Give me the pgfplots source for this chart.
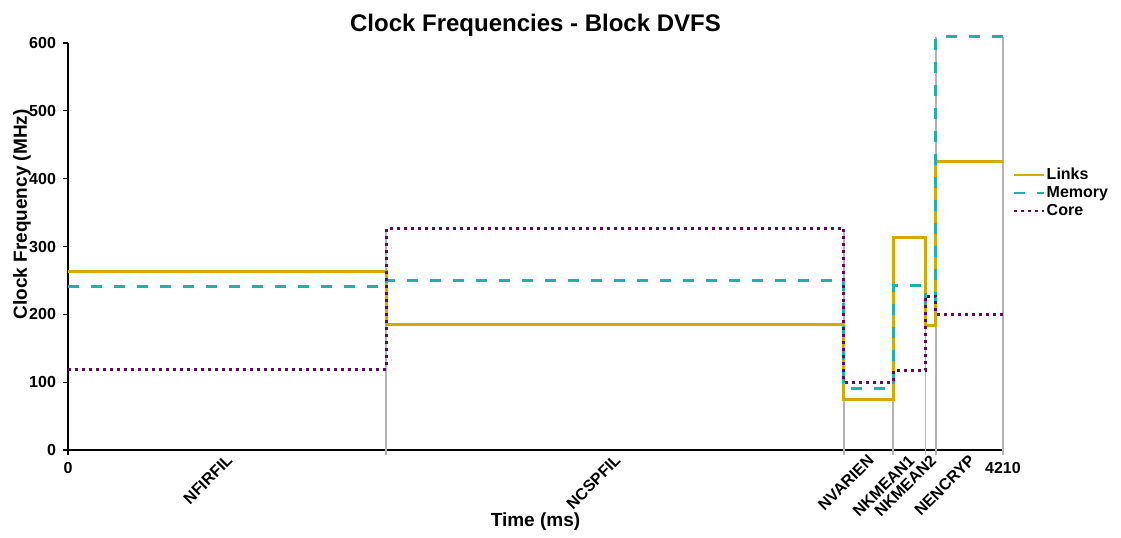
\documentclass[border=0pt]{standalone}
\usepackage{fontspec}
\setmainfont{Liberation Sans}
\usepackage{pgfplots}
\pgfplotsset{compat=1.18}
\usetikzlibrary{calc}
\definecolor{LinkGold}{HTML}{D4AA00}
\definecolor{MemTeal}{HTML}{1FB2AA}
\definecolor{CorePurple}{HTML}{5E0A5E}
\definecolor{SegGray}{HTML}{B4B4B4}

\begin{document}
\begin{tikzpicture}
  \begin{axis}[
    scale only axis,
    width=467.5pt, height=203.5pt,
    xmin=0, xmax=4210, ymin=0, ymax=600,
    clip=false,
    axis lines=left,
    axis line style={-, line width=0.8pt},
    tick align=outside,
    major tick length=2.5pt,
    tick style={black, line width=0.6pt},
    ytick={0,100,...,600},
    xtick={0,4210},
    xticklabels={0,4210},
    extra x ticks={716,2463,3604,3787,3884,4059},
    extra x tick labels={NFIRFIL,NCSPFIL,NVARIEN,NKMEAN1,NKMEAN2,NENCRYP},
    extra x tick style={major tick length=0pt,
      tick label style={rotate=45, anchor=north east, inner sep=1pt, xshift=-0.7pt, yshift=0.3pt}},
    /pgf/number format/assume math mode=true,
    /pgf/number format/set thousands separator={},
    tick label style={font=\bfseries\fontsize{8}{9}\selectfont},
    title={Clock Frequencies - Block DVFS},
    title style={font=\bfseries\fontsize{12}{14}\selectfont, at={(axis description cs:0.5,1)}, anchor=center, yshift=3pt},
    xlabel={Time (ms)},
    xlabel style={font=\bfseries\fontsize{9.5}{11}\selectfont, at={(axis description cs:0.5,0)}, anchor=center, yshift=-36pt},
    ylabel={Clock Frequency (MHz)},
    ylabel style={font=\bfseries\fontsize{9.5}{11}\selectfont, at={(axis description cs:0,0.579)}, anchor=center, yshift=23pt},
    legend style={draw=none, fill=none, at={(axis description cs:1.004,0.71)}, anchor=north west,
      font=\bfseries\fontsize{8}{9}\selectfont, row sep=0pt,
      nodes={inner sep=1pt}},
    legend cell align=left,
    legend image code/.code={\draw[#1, line width=0.8pt] (0pt,0pt) -- (15pt,0pt);},
  ]
    % segment boundaries
    \addplot[SegGray, line width=0.6pt, forget plot] coordinates {(1432,-8) (1432,326)};
    \addplot[SegGray, line width=0.6pt, forget plot] coordinates {(3494,-8) (3494,326)};
    \addplot[SegGray, line width=0.6pt, forget plot] coordinates {(3715,-8) (3715,314)};
    \addplot[SegGray, line width=0.6pt, forget plot] coordinates {(3860,-8) (3860,314)};
    \addplot[SegGray, line width=0.6pt, forget plot] coordinates {(3908,-8) (3908,609)};
    \addplot[SegGray, line width=0.6pt, forget plot] coordinates {(4210,-8) (4210,609)};

    \addplot[const plot, LinkGold, line width=1.5pt] coordinates {
      (0,263) (1432,185) (3494,75) (3715,313) (3860,183) (3908,426) (4210,426)};
    \addlegendentry{Links}
    \addplot[const plot, MemTeal, line width=1.5pt, dash pattern=on 5.5pt off 6pt] coordinates {
      (0,241) (1432,250) (3494,91) (3715,242) (3860,215) (3908,609) (4210,609)};
    \addlegendentry{Memory}
    \addplot[const plot, CorePurple, line width=1.5pt, dash pattern=on 1.5pt off 2pt] coordinates {
      (0,119) (1432,326) (3494,100) (3715,117) (3860,227) (3908,200) (4210,200)};
    \addlegendentry{Core}

    \coordinate (O) at (rel axis cs:0,0);
  \end{axis}
  \pgfresetboundingbox
  \path ($(O)+(-34pt,-43.5pt)$) rectangle ++(560.5pt,268.5pt);
\end{tikzpicture}
\end{document}
